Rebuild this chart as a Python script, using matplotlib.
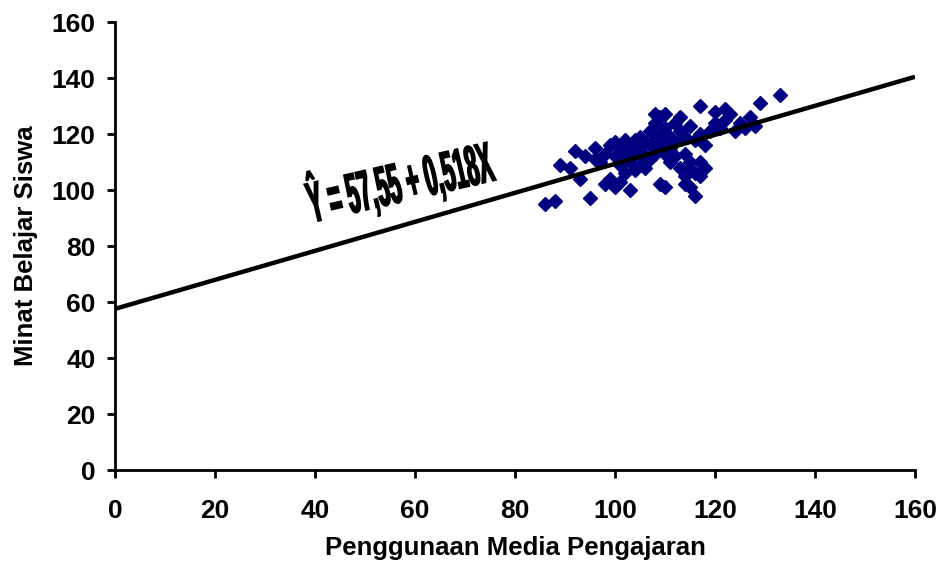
import numpy as np
import matplotlib
matplotlib.use('Agg')
import matplotlib.pyplot as plt
import matplotlib.transforms as mtransforms
from matplotlib.textpath import TextPath
from matplotlib.patches import PathPatch
from matplotlib.font_manager import FontProperties

# data
media = [86, 88, 89, 91, 92, 93, 94, 95, 96, 96, 97, 98, 98, 99, 99, 100, 100, 100,
         101, 101, 101, 102, 102, 102, 103, 103, 103, 104, 104, 104, 105, 105, 105,
         106, 106, 106, 107, 107, 107, 108, 108, 108, 108, 109, 109, 109, 109,
         110, 110, 110, 110, 110, 111, 111, 111, 112, 112, 112, 113, 113, 113,
         114, 114, 114, 114, 115, 115, 115, 115, 116, 116, 116, 117, 117, 117, 117,
         118, 118, 119, 120, 120, 121, 122, 122, 123, 124, 125, 126, 127, 128, 129, 133]
minat = [95, 96, 109, 108, 114, 104, 112, 97, 115, 111, 110, 113, 102, 116, 104, 117, 112, 101,
         115, 109, 103, 118, 113, 106, 116, 110, 100, 118, 113, 107, 119, 115, 109,
         117, 112, 108, 121, 116, 111, 127, 124, 118, 113, 126, 120, 115, 102,
         127, 122, 117, 113, 101, 119, 115, 110, 124, 117, 112, 126, 121, 108,
         119, 113, 105, 102, 123, 110, 107, 101, 118, 106, 98, 130, 120, 110, 105,
         116, 108, 121, 128, 124, 122, 129, 125, 127, 121, 124, 122, 126, 123, 131, 134]

intercept = 57.55
slope = 0.518
line_x = [0, 160]
equation = 'Ŷ = 57,55 + 0,518X'

xticks = [0, 20, 40, 60, 80, 100, 120, 140, 160]
yticks = [0, 20, 40, 60, 80, 100, 120, 140, 160]

plt.rcParams['font.family'] = ['Liberation Sans', 'DejaVu Sans']

fig = plt.figure(figsize=(9.4, 5.7), dpi=100)
ax = fig.add_axes([0.1223, 0.1754, 0.8511, 0.786])

ax.plot(media, minat, linestyle='none', marker='D', ms=7, color='#000080', zorder=2)
lx = np.array(line_x)
ax.plot(lx, intercept + slope * lx, color='black', lw=3.2, zorder=3, solid_capstyle='butt')

ax.set_xlim(0, 160)
ax.set_ylim(0, 160)
ax.set_xticks(xticks)
ax.set_yticks(yticks)
for s in ['top', 'right']:
    ax.spines[s].set_visible(False)
for s in ['left', 'bottom']:
    ax.spines[s].set_linewidth(2)
ax.tick_params(direction='out', length=6, width=2, labelsize=19)
ax.tick_params(axis='x', pad=15)
ax.tick_params(axis='y', pad=8)
for lab in ax.get_xticklabels() + ax.get_yticklabels():
    lab.set_fontweight('bold')
ax.set_xlabel('Penggunaan Media Pengajaran', fontsize=18.5, fontweight='bold', labelpad=9)
ax.set_ylabel('Minat Belajar Siswa', fontsize=18.5, fontweight='bold', labelpad=10)

# stretched, rotated equation (word-art style)
fp = FontProperties(family=['Liberation Sans Narrow', 'Liberation Sans'], weight='bold')
tp = TextPath((0, 0), equation, size=10, prop=fp)
ext = tp.get_extents()
digit = TextPath((0, 0), '0', size=10, prop=fp).get_extents()
kx = 188.0 / ext.width
ky = 40.0 / digit.height
tr = (mtransforms.Affine2D()
      .translate(-(ext.x0 + ext.width / 2), -digit.height / 2)
      .scale(kx, ky)
      .rotate_deg(13)
      + mtransforms.ScaledTranslation(57.0, 103, ax.transData))
ax.add_patch(PathPatch(tp, transform=tr, facecolor='black', edgecolor='black',
                       lw=1.2, zorder=4))

fig.savefig('out.png', dpi=100)
